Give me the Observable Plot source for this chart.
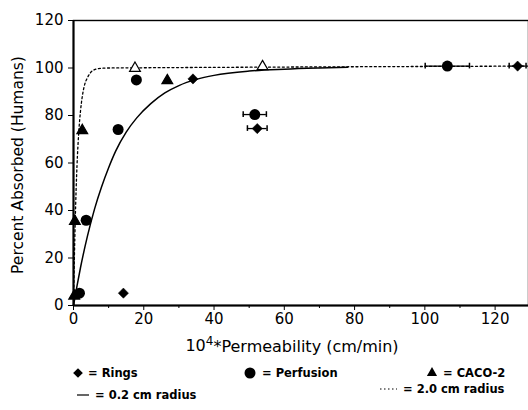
<!DOCTYPE html>
<html>
<head>
<meta charset="utf-8">
<script src="https://cdn.jsdelivr.net/npm/d3@7"></script>
<script src="https://cdn.jsdelivr.net/npm/@observablehq/plot@0.6"></script>
<style>
  html, body { margin: 0; padding: 0; background: white; }
  #chart { width: 528px; height: 410px; position: relative; overflow: hidden; }
  #chart svg { display: block; }
</style>
</head>
<body>
<div id="chart"></div>
<script>
// ---- data ----
const ringsX = [14.2, 34.0, 52.3, 126.4];
const ringsY = [5.2, 95.4, 74.5, 100.8];
const ringsErr = [0, 0, 2.8, 2.4];

const perfX = [1.7, 3.6, 12.7, 17.9, 51.6, 106.4];
const perfY = [5.2, 35.9, 74.1, 95.0, 80.4, 100.8];
const perfErr = [0, 0, 0, 0, 3.3, 6.3];

const cacoX = [0.2, 0.4, 2.5, 17.5, 26.7, 53.8];
const cacoY = [4.0, 35.5, 73.7, 99.9, 94.7, 100.6];
const cacoOpen = [false, false, false, true, false, true];

// curve "0.2 cm radius" (solid)
const solidX = [0, 1, 2, 4, 6, 8, 10, 12, 15, 18, 22, 26, 30, 35, 40, 50, 60, 70, 78];
const solidY = [0, 8.3, 16, 29.4, 40.7, 50, 58, 65, 73, 79, 85, 89.5, 92.6, 95.2, 96.9, 98.7, 99.5, 100, 100.3];

// curve "2.0 cm radius" (dotted)
const dotX = [0, 0.25, 0.5, 0.75, 1, 1.5, 2, 2.5, 3, 4, 5, 6, 8, 10, 20, 60, 129.5];
const dotY = [0, 20, 36, 49, 59, 73, 82, 88, 92, 96, 98.3, 99.3, 99.9, 100, 100.1, 100.4, 100.8];

const xMajor = [0, 20, 40, 60, 80, 100, 120];
const xMinor = [10, 30, 50, 70, 90, 110];
const yMajor = [0, 20, 40, 60, 80, 100, 120];

const xLabelParts = ["10", "4", "*Permeability (cm/min)"];
const yLabel = "Percent Absorbed (Humans)";
const legendItems = ["= Rings", "= Perfusion", "= CACO-2", "= 0.2 cm radius", "= 2.0 cm radius"];

// ---- tables ----
const rings = ringsX.map((x, i) => ({x, y: ringsY[i], e: ringsErr[i]}));
const perf = perfX.map((x, i) => ({x, y: perfY[i], e: perfErr[i]}));
const caco = cacoX.map((x, i) => ({x, y: cacoY[i], open: cacoOpen[i]}));
const solid = solidX.map((x, i) => ({x, y: solidY[i]}));
const dotted = dotX.map((x, i) => ({x, y: dotY[i]}));
const errs = [...rings, ...perf].filter(d => d.e > 0);

const plot = Plot.plot({
  width: 528,
  height: 362,
  marginTop: 20,
  marginBottom: 57,
  marginLeft: 73,
  marginRight: 0,
  style: {fontFamily: "DejaVu Sans", fontSize: "15px", color: "black", background: "white", overflow: "visible"},
  x: {domain: [0, 129.5]},
  y: {domain: [0, 120]},
  marks: [
    Plot.frame({stroke: "black", strokeWidth: 1.4}),
    Plot.line(dotted, {x: "x", y: "y", curve: "monotone-x", stroke: "black", strokeWidth: 1.3, strokeDasharray: "2,2.6"}),
    Plot.line(solid, {x: "x", y: "y", curve: "monotone-x", stroke: "black", strokeWidth: 1.5}),
    Plot.ruleY(errs, {y: "y", x1: d => d.x - d.e, x2: d => d.x + d.e, stroke: "black", strokeWidth: 1.3}),
    Plot.ruleX(errs, {x: d => d.x - d.e, y1: d => d.y - 1.2, y2: d => d.y + 1.2, stroke: "black", strokeWidth: 1.5}),
    Plot.ruleX(errs, {x: d => d.x + d.e, y1: d => d.y - 1.2, y2: d => d.y + 1.2, stroke: "black", strokeWidth: 1.5}),
    Plot.dot(rings, {x: "x", y: "y", symbol: "diamond2", r: 4.6, fill: "black", stroke: "black", strokeWidth: 0.5}),
    Plot.dot(perf, {x: "x", y: "y", symbol: "circle", r: 5.5, fill: "black"}),
    Plot.dot(caco, {x: "x", y: "y", symbol: "triangle", r: 4, fill: d => d.open ? "white" : "black", stroke: "black", strokeWidth: 1.2}),
    Plot.ruleX([0], {stroke: "black", strokeWidth: 2}),
    Plot.ruleY([0], {stroke: "black", strokeWidth: 2}),
    Plot.axisY({ticks: yMajor, tickSize: 5, tickPadding: 5, label: null, fontSize: 15}),
    Plot.axisX({ticks: xMajor, tickSize: 5, tickPadding: 3, label: null, fontSize: 15}),
    Plot.axisX({ticks: xMinor, tickSize: 3, tickFormat: () => "", label: null}),
    Plot.text([xLabelParts.join("")], {frameAnchor: "bottom", dy: 45, dx: -9, fontSize: 16, fill: "black", className: "xlab"}),
    Plot.text([yLabel], {frameAnchor: "left", textAnchor: "middle", dx: -55, dy: 2, rotate: -90, fontSize: 15.5, fill: "black"})
  ]
});
document.getElementById("chart").appendChild(plot);

// superscript exponent in the x label (kept as real text)
const xl = d3.select(plot).select("g.xlab text");
if (!xl.empty()) {
  xl.text(null);
  xl.append("tspan").text(xLabelParts[0]);
  xl.append("tspan").attr("dy", "-0.45em").attr("font-size", "12px").text(xLabelParts[1]);
  xl.append("tspan").attr("dy", "0.45em").text(xLabelParts[2]);
}

// ---- legend below the chart ----
const leg = d3.select("#chart").append("svg")
  .attr("width", 528).attr("height", 48)
  .style("font-family", "DejaVu Sans").style("font-weight", "bold").style("font-size", "11.5px");
const row1 = 11, row2 = 33;
leg.append("path").attr("d", d3.symbol(d3.symbolDiamond2, 60)()).attr("transform", `translate(78,${row1})`).attr("fill", "black");
leg.append("text").attr("x", 88).attr("y", row1).attr("dy", "0.35em").text(legendItems[0]);
leg.append("circle").attr("cx", 250).attr("cy", row1).attr("r", 5.5).attr("fill", "black");
leg.append("text").attr("x", 262).attr("y", row1).attr("dy", "0.35em").text(legendItems[1]);
leg.append("path").attr("d", d3.symbol(d3.symbolTriangle, 45)()).attr("transform", `translate(432,${row1})`).attr("fill", "black");
leg.append("text").attr("x", 443).attr("y", row1).attr("dy", "0.35em").text(legendItems[2]);
leg.append("line").attr("x1", 77).attr("x2", 89).attr("y1", row2).attr("y2", row2).attr("stroke", "black").attr("stroke-width", 1.2);
leg.append("text").attr("x", 95).attr("y", row2).attr("dy", "0.35em").text(legendItems[3]);
leg.append("line").attr("x1", 380).attr("x2", 397).attr("y1", row2 - 6).attr("y2", row2 - 6).attr("stroke", "black").attr("stroke-width", 1.1).attr("stroke-dasharray", "1.5,2.5");
leg.append("text").attr("x", 403).attr("y", row2 - 6).attr("dy", "0.35em").text(legendItems[4]);
</script>
</body>
</html>
